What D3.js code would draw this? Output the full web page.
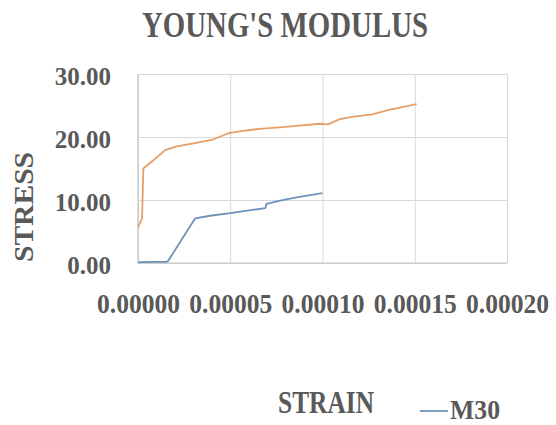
<!DOCTYPE html>
<html>
<head>
<meta charset="utf-8">
<script src="https://cdn.jsdelivr.net/npm/d3@7"></script>
<style>
  html, body { margin: 0; padding: 0; background: #fff; }
  svg { display: block; }
  text { font-family: "Liberation Serif", "Times New Roman", serif; font-weight: bold; fill: #595959; }
</style>
</head>
<body>
<svg id="chart" width="556" height="425"></svg>
<script>
// ---- data ----
const chartTitle = "YOUNG'S MODULUS";
const xTitle = "STRAIN";
const yTitle = "STRESS";
const seriesNames = ["M30", ""];

const m30Strain = [0, 0.000001, 0.0000155, 0.0000165, 0.000031, 0.000039, 0.00005, 0.000059, 0.000069, 0.0000696, 0.000077, 0.000086, 0.0001];
const m30Stress = [0, 0.15, 0.2, 0.4, 7.1, 7.5, 7.9, 8.3, 8.7, 9.4, 9.9, 10.4, 11.1];

const s2Strain = [0, 0.000001, 0.0000022, 0.0000029, 0.0000083, 0.0000146, 0.000021, 0.00003, 0.0000407, 0.000049, 0.000055, 0.000066, 0.00008, 0.0000984, 0.000103, 0.000109, 0.000116, 0.000127, 0.000136, 0.000151];
const s2Stress = [5.7, 6.3, 7.1, 15.0, 16.3, 17.9, 18.5, 19.0, 19.6, 20.6, 20.9, 21.3, 21.6, 22.1, 22.0, 22.8, 23.2, 23.6, 24.3, 25.2];

const xTicks = [0, 0.00005, 0.0001, 0.00015, 0.0002];
const yTicks = [0, 10, 20, 30];

// ---- layout ----
const svg = d3.select("#chart");
const plot = { left: 138, right: 507, top: 74, bottom: 263 };
const x = d3.scaleLinear().domain([0, 0.0002]).range([plot.left, plot.right]);
const y = d3.scaleLinear().domain([0, 30]).range([plot.bottom, plot.top]);

// gridlines
const gx = svg.append("g").attr("transform", `translate(0,${plot.bottom})`)
  .call(d3.axisBottom(x).tickValues(xTicks).tickSize(-(plot.bottom - plot.top)).tickFormat(""));
gx.select(".domain").remove();
gx.selectAll("line").attr("stroke", "#d9d9d9").attr("stroke-width", 1);

const gy = svg.append("g").attr("transform", `translate(${plot.left},0)`)
  .call(d3.axisLeft(y).tickValues(yTicks).tickSize(-(plot.right - plot.left)).tickFormat(""));
gy.select(".domain").remove();
gy.selectAll("line").attr("stroke", "#d9d9d9").attr("stroke-width", 1);

// axis lines
svg.append("line").attr("x1", plot.left).attr("x2", plot.right)
  .attr("y1", plot.bottom).attr("y2", plot.bottom).attr("stroke", "#c4c4c4").attr("stroke-width", 1.2);
svg.append("line").attr("x1", plot.left).attr("x2", plot.left)
  .attr("y1", plot.top).attr("y2", plot.bottom).attr("stroke", "#c4c4c4").attr("stroke-width", 1.2);

// tick labels
const xAxis = svg.append("g").attr("transform", `translate(0,${plot.bottom})`)
  .call(d3.axisBottom(x).tickValues(xTicks).tickSize(0).tickFormat(d3.format(".5f")));
xAxis.select(".domain").remove();
xAxis.selectAll("text")
  .attr("y", 50).attr("dy", null)
  .style("font-size", "28px")
  .attr("textLength", 83).attr("lengthAdjust", "spacingAndGlyphs");

const yAxis = svg.append("g").attr("transform", `translate(${plot.left},0)`)
  .call(d3.axisLeft(y).tickValues(yTicks).tickSize(0).tickFormat(d3.format(".2f")));
yAxis.select(".domain").remove();
yAxis.selectAll("text")
  .attr("x", -27).attr("dy", "10px")
  .style("font-size", "25px");

// lines
const line = d3.line().x(d => x(d[0])).y(d => y(d[1]));
svg.append("path")
  .datum(d3.zip(s2Strain, s2Stress))
  .attr("d", line).attr("fill", "none")
  .attr("stroke", "#e5a06a").attr("stroke-width", 1.8).attr("stroke-linejoin", "round");
svg.append("path")
  .datum(d3.zip(m30Strain, m30Stress))
  .attr("d", line).attr("fill", "none")
  .attr("stroke", "#6f93b8").attr("stroke-width", 1.8).attr("stroke-linejoin", "round");

// titles
svg.append("text").attr("x", 285).attr("y", 37).attr("text-anchor", "middle")
  .style("font-size", "36px").attr("textLength", 286).attr("lengthAdjust", "spacingAndGlyphs")
  .text(chartTitle);

svg.append("text").attr("transform", "translate(33,207) rotate(-90)").attr("text-anchor", "middle")
  .style("font-size", "27px").attr("textLength", 110).attr("lengthAdjust", "spacingAndGlyphs")
  .text(yTitle);

svg.append("text").attr("x", 326).attr("y", 413).attr("text-anchor", "middle")
  .style("font-size", "31px").attr("textLength", 96).attr("lengthAdjust", "spacingAndGlyphs")
  .text(xTitle);

// legend
svg.append("line").attr("x1", 420).attr("x2", 448).attr("y1", 411).attr("y2", 411)
  .attr("stroke", "#6f93b8").attr("stroke-width", 1.8);
svg.append("text").attr("x", 450).attr("y", 419)
  .style("font-size", "27px").attr("textLength", 50).attr("lengthAdjust", "spacingAndGlyphs")
  .text(seriesNames[0]);
</script>
</body>
</html>
